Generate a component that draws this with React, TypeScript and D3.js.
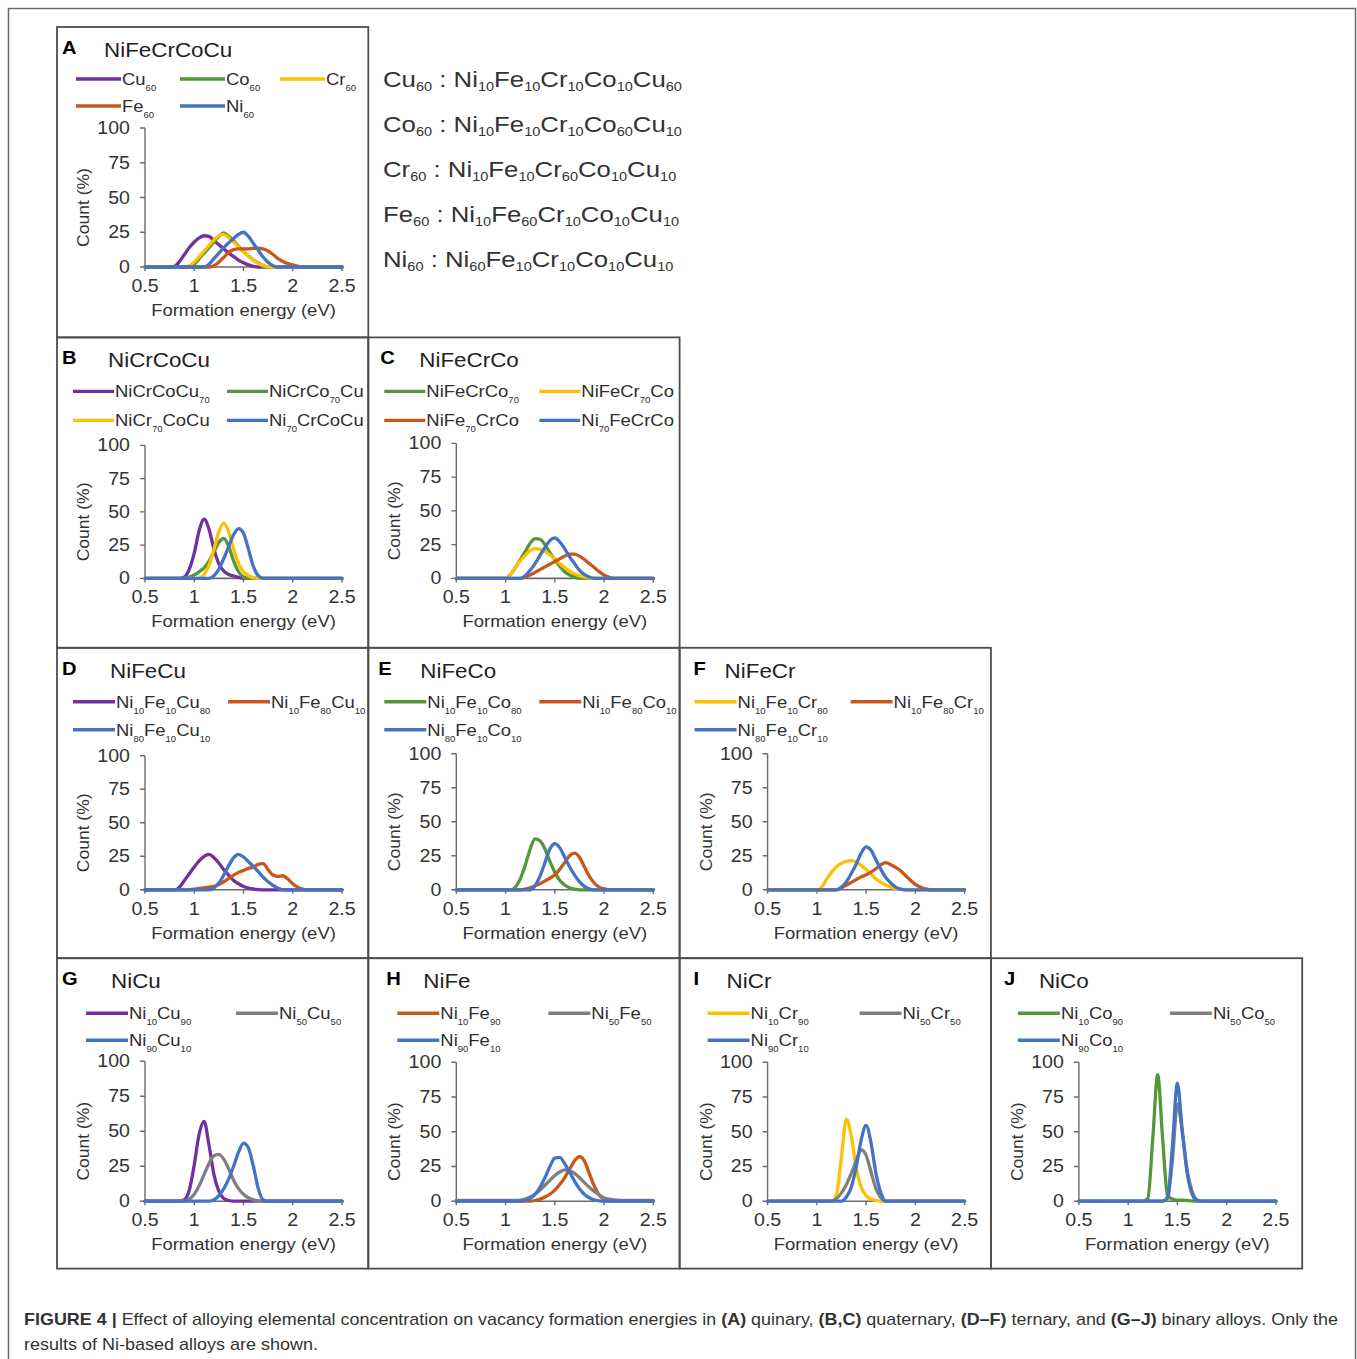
import React from "react";
import * as d3 from "d3";

// energy bins (eV) shared by every histogram curve
const energy = [
  0.5, 0.55, 0.6, 0.65, 0.7, 0.75, 0.8, 0.85, 0.9, 0.95,
  1.0, 1.05, 1.1, 1.15, 1.2, 1.25, 1.3, 1.35, 1.4, 1.45,
  1.5, 1.55, 1.6, 1.65, 1.7, 1.75, 1.8, 1.85, 1.9, 1.95,
  2.0, 2.05, 2.1, 2.15, 2.2, 2.25, 2.3, 2.35, 2.4, 2.45,
  2.5,
];
const xTicks = [0.5, 1, 1.5, 2, 2.5];
const xTickLabels = ["0.5", "1", "1.5", "2", "2.5"];
const yTicks = [0, 25, 50, 75, 100];

// (A) quinary
const A_Cu60 = [0,0,0,0,0,0,0.5,4,9,14, 18,21,22.5,22,19,16,13,10,7.5,5, 3,1.5,0.5,0,0,0,0,0,0,0, 0,0,0,0,0,0,0,0,0,0, 0];
const A_Co60 = [0,0,0,0,0,0,0,0,0,0.5, 2,6,10,14,18,22,24.5,22,19,15, 11,8,5,3,1,0,0,0,0,0, 0,0,0,0,0,0,0,0,0,0, 0];
const A_Cr60 = [0,0,0,0,0,0,0,0,0,1, 3.5,7.5,11.5,15.5,19.5,22.5,23.5,21,18,14.5, 11,8,5,2.5,1,0,0,0,0,0, 0,0,0,0,0,0,0,0,0,0, 0];
const A_Fe60 = [0,0,0,0,0,0,0,0,0,0, 0,0,0,0,1,3.5,7,10.5,12.5,13, 13,13,13.5,13.5,13,11.5,9,6,4,2.5, 1.5,0.7,0.2,0,0,0,0,0,0,0, 0];
const A_Ni60 = [0,0,0,0,0,0,0,0,0,0, 0,0,0,2,6,10,14,17.5,20.5,23.5, 25,22,17,12,7,3.5,1,0,0,0, 0,0,0,0,0,0,0,0,0,0, 0];

// (B) NiCrCoCu
const B_Cu70 = [0,0,0,0,0,0,0,0,1,7, 19,36,44.5,37,22,11,5.5,3,1.8,0.8, 0.2,0,0,0,0,0,0,0,0,0, 0,0,0,0,0,0,0,0,0,0, 0];
const B_Co70 = [0,0,0,0,0,0,0,0,0,1, 2.5,5,8,13,20,27,30,24,13,5, 1,0,0,0,0,0,0,0,0,0, 0,0,0,0,0,0,0,0,0,0, 0];
const B_Cr70 = [0,0,0,0,0,0,0,0,0,0, 0,0,3,10,22,35,41.5,35,22,11, 5,2,0.5,0,0,0,0,0,0,0, 0,0,0,0,0,0,0,0,0,0, 0];
const B_Ni70 = [0,0,0,0,0,0,0,0,0,0, 0,0,0,0,2,7,15,24,33,37.5, 34,22,9,2,0,0,0,0,0,0, 0,0,0,0,0,0,0,0,0,0, 0];

// (C) NiFeCrCo
const C_Co70 = [0,0,0,0,0,0,0,0,0,0, 0,3,8,14,20,26,29.5,29,25,19, 14,9,5,2.5,1,0,0,0,0,0, 0,0,0,0,0,0,0,0,0,0, 0];
const C_Cr70 = [0,0,0,0,0,0,0,0,0,0, 0,3,8,13,17,20.5,22,21.5,20,17.5, 14.5,11,8,5.5,3.5,2,1,0.3,0,0, 0,0,0,0,0,0,0,0,0,0, 0];
const C_Fe70 = [0,0,0,0,0,0,0,0,0,0, 0,0,0,0,1,2.5,4.5,6.5,8.5,10.5, 12.5,14.5,16.5,18,18,16.5,14,11,8,5, 2.5,1,0,0,0,0,0,0,0,0, 0];
const C_Ni70 = [0,0,0,0,0,0,0,0,0,0, 0,0,0,0,2,6,11,17,23,28, 30,27,22,16,11,6,3,1,0,0, 0,0,0,0,0,0,0,0,0,0, 0];

// (D) NiFeCu
const D_Cu80 = [0,0,0,0,0,0,0,2,7,12, 17,21.5,25,26.5,24,20,15,11,7,4.5, 2.5,1.3,0.6,0.2,0,0,0,0,0,0, 0,0,0,0,0,0,0,0,0,0, 0];
const D_Fe80 = [0,0,0,0,0,0,0,0,0,0, 0.5,1,1.5,2,2.5,4,6,8.5,11,13, 14.5,16,17,19,19.5,15,11,10,10.5,8, 4.5,2,0.5,0,0,0,0,0,0,0, 0];
const D_Ni80 = [0,0,0,0,0,0,0,0,0,0, 0,0,0,0,1.5,5,11,18,24,26.5, 24.5,21,17.5,13.5,9.5,6,3.3,1.2,0,0, 0,0,0,0,0,0,0,0,0,0, 0];

// (E) NiFeCo
const E_Co80 = [0,0,0,0,0,0,0,0,0,0, 0,0,2,8,18,30,37.5,36,30,21, 13,7,3.5,1.5,0.5,0,0,0,0,0, 0,0,0,0,0,0,0,0,0,0, 0];
const E_Fe80 = [0,0,0,0,0,0,0,0,0,0, 0,0,0,0,0.5,1.5,3,4.5,6.5,8.5, 11,15,20,25,27,24,17,10,5,2, 0.7,0,0,0,0,0,0,0,0,0, 0];
const E_Ni80 = [0,0,0,0,0,0,0,0,0,0, 0,0,0,0,0,0,3,10,20,30, 34,31,24,17,11,6,2.5,0.7,0,0, 0,0,0,0,0,0,0,0,0,0, 0];

// (F) NiFeCr
const F_Cr80 = [0,0,0,0,0,0,0,0,0,0, 0,2,8,13,17,19.5,21,21.5,20.5,18, 15,11.5,8,5.5,3.5,2,1,0.4,0,0, 0,0,0,0,0,0,0,0,0,0, 0];
const F_Fe80 = [0,0,0,0,0,0,0,0,0,0, 0,0,0,0,0,1.5,3.5,5.5,7.5,9.5, 11,13,15.5,18.5,20,18.5,16.5,14,10.5,7, 4,2,0.7,0,0,0,0,0,0,0, 0];
const F_Ni80 = [0,0,0,0,0,0,0,0,0,0, 0,0,0,0,0,2,6,12,19,27, 31.5,29,22,15,9,5,2,0.5,0,0, 0,0,0,0,0,0,0,0,0,0, 0];

// (G) NiCu
const G_Cu90 = [0,0,0,0,0,0,0,0,1,8, 26,48,57,40,19,7,2,0.5,0,0, 0,0,0,0,0,0,0,0,0,0, 0,0,0,0,0,0,0,0,0,0, 0];
const G_Cu50 = [0,0,0,0,0,0,0,0,0,1.5, 5,11,19,27,32.5,33.5,30,23,15,9, 5,2.5,1,0.3,0,0,0,0,0,0, 0,0,0,0,0,0,0,0,0,0, 0];
const G_Cu10 = [0,0,0,0,0,0,0,0,0,0, 0,0,0,0,1,4,9,16,25,35, 41.5,38,25,9,1,0,0,0,0,0, 0,0,0,0,0,0,0,0,0,0, 0];

// (H) NiFe
const H_Fe90 = [0,0,0,0,0,0,0,0,0,0, 0,0,0,0,0,0,0.5,1.5,3,5, 8,12,17,23,29,32,29,20,11,4.5, 1.5,0,0,0,0,0,0,0,0,0, 0];
const H_Fe50 = [0.5,0.5,0.5,0.5,0.5,0.5,0.5,0.5,0.5,0.5, 0.5,0.5,0.5,0.8,1.5,3,5,8,11.5,15, 18.5,21,22.5,22,20,17,13.5,10,7,4.5, 2.5,1.5,1,0.7,0.5,0.5,0.5,0.5,0.5,0.5, 0.5];
const H_Fe10 = [0,0,0,0,0,0,0,0,0,0, 0,0,0,0,0.5,2,5,10,17,25, 31,31.5,27,21,14.5,9,5,2.5,1,0.3, 0,0,0,0,0,0,0,0,0,0, 0];

// (I) NiCr
const I_Cr90 = [0,0,0,0,0,0,0,0,0,0, 0,0,0,0,5,32,59,47,24,10, 4,1.5,0.5,0,0,0,0,0,0,0, 0,0,0,0,0,0,0,0,0,0, 0];
const I_Cr50 = [0,0,0,0,0,0,0,0,0,0, 0,0,0,0,2,6,12,20,29,37, 33,21,9,2.5,0,0,0,0,0,0, 0,0,0,0,0,0,0,0,0,0, 0];
const I_Cr10 = [0,0,0,0,0,0,0,0,0,0, 0,0,0,0,0,0,3,10,25,44, 54.5,42,20,6,0,0,0,0,0,0, 0,0,0,0,0,0,0,0,0,0, 0];

// (J) NiCo
const J_Co90 = [0,0,0,0,0,0,0,0,0,0, 0,0,0,0,2,45,91,45,4,1.5, 0.8,0.8,0.5,0.2,0,0,0,0,0,0, 0,0,0,0,0,0,0,0,0,0, 0];
const J_Co50 = [0,0,0,0,0,0,0,0,0,0, 0,0,0,0,0,0,0,0,2,30, 70,50,22,7,1,0,0,0,0,0, 0,0,0,0,0,0,0,0,0,0, 0];
const J_Co10 = [0,0,0,0,0,0,0,0,0,0, 0,0,0,0,0,0,0,0,3,40, 85,50,20,5,0.5,0,0,0,0,0, 0,0,0,0,0,0,0,0,0,0, 0];

// legend labels, "_n" marks a subscript
const labelsA = ["Cu_60", "Co_60", "Cr_60", "Fe_60", "Ni_60"];
const labelsB = ["NiCrCoCu_70", "NiCrCo_70Cu", "NiCr_70CoCu", "Ni_70CrCoCu"];
const labelsC = ["NiFeCrCo_70", "NiFeCr_70Co", "NiFe_70CrCo", "Ni_70FeCrCo"];
const labelsD = ["Ni_10Fe_10Cu_80", "Ni_10Fe_80Cu_10", "Ni_80Fe_10Cu_10"];
const labelsE = ["Ni_10Fe_10Co_80", "Ni_10Fe_80Co_10", "Ni_80Fe_10Co_10"];
const labelsF = ["Ni_10Fe_10Cr_80", "Ni_10Fe_80Cr_10", "Ni_80Fe_10Cr_10"];
const labelsG = ["Ni_10Cu_90", "Ni_50Cu_50", "Ni_90Cu_10"];
const labelsH = ["Ni_10Fe_90", "Ni_50Fe_50", "Ni_90Fe_10"];
const labelsI = ["Ni_10Cr_90", "Ni_50Cr_50", "Ni_90Cr_10"];
const labelsJ = ["Ni_10Co_90", "Ni_50Co_50", "Ni_90Co_10"];

const formulas = [
  "Cu_60 : Ni_10Fe_10Cr_10Co_10Cu_60",
  "Co_60 : Ni_10Fe_10Cr_10Co_60Cu_10",
  "Cr_60 : Ni_10Fe_10Cr_60Co_10Cu_10",
  "Fe_60 : Ni_10Fe_60Cr_10Co_10Cu_10",
  "Ni_60 : Ni_60Fe_10Cr_10Co_10Cu_10",
];

const PURPLE = "#7030A0";
const GREEN = "#559638";
const YELLOW = "#FFC000";
const ORANGE = "#C8571B";
const BLUE = "#4472C4";
const GRAY = "#7F7F7F";

const FONT = "'Liberation Sans', Arial, Helvetica, sans-serif";
const SX = 1.12; // glyphs in the figure are slightly wide
const PANEL_W = 311.3;
const PANEL_H = 310.4;
const colX = [57, 57 + PANEL_W, 57 + 2 * PANEL_W, 57 + 3 * PANEL_W];
const rowY = [27, 27 + PANEL_H, 27 + 2 * PANEL_H, 27 + 3 * PANEL_H];

type Panel = {
  letter: string;
  title: string;
  col: number;
  row: number;
  letterX: number;
  titleX: number;
  labels: string[];
  colors: string[];
  values: number[][];
  legendCols: number;
  legendX: number[];
  legendY: number[];
  legendLen: number;
  plotTop: number;
  plotBottom: number;
};

const panels: Panel[] = [
  { letter: "A", title: "NiFeCrCoCu", col: 0, row: 0, letterX: 5, titleX: 47,
    labels: labelsA, colors: [PURPLE, GREEN, YELLOW, ORANGE, BLUE],
    values: [A_Cu60, A_Co60, A_Cr60, A_Fe60, A_Ni60],
    legendCols: 3, legendX: [19, 123, 223], legendY: [52, 79], legendLen: 45,
    plotTop: 101, plotBottom: 240 },
  { letter: "B", title: "NiCrCoCu", col: 0, row: 1, letterX: 5, titleX: 51,
    labels: labelsB, colors: [PURPLE, GREEN, YELLOW, BLUE],
    values: [B_Cu70, B_Co70, B_Cr70, B_Ni70],
    legendCols: 2, legendX: [16, 170], legendY: [54, 83], legendLen: 41,
    plotTop: 108, plotBottom: 241 },
  { letter: "C", title: "NiFeCrCo", col: 1, row: 1, letterX: 12, titleX: 51,
    labels: labelsC, colors: [GREEN, YELLOW, ORANGE, BLUE],
    values: [C_Co70, C_Cr70, C_Fe70, C_Ni70],
    legendCols: 2, legendX: [16, 171], legendY: [54, 83], legendLen: 41,
    plotTop: 106, plotBottom: 241 },
  { letter: "D", title: "NiFeCu", col: 0, row: 2, letterX: 5, titleX: 53,
    labels: labelsD, colors: [PURPLE, ORANGE, BLUE],
    values: [D_Cu80, D_Fe80, D_Ni80],
    legendCols: 2, legendX: [16, 171], legendY: [54, 82], legendLen: 42,
    plotTop: 108, plotBottom: 242 },
  { letter: "E", title: "NiFeCo", col: 1, row: 2, letterX: 10, titleX: 52,
    labels: labelsE, colors: [GREEN, ORANGE, BLUE],
    values: [E_Co80, E_Fe80, E_Ni80],
    legendCols: 2, legendX: [16, 171], legendY: [54, 82], legendLen: 42,
    plotTop: 106, plotBottom: 242 },
  { letter: "F", title: "NiFeCr", col: 2, row: 2, letterX: 14, titleX: 45,
    labels: labelsF, colors: [YELLOW, ORANGE, BLUE],
    values: [F_Cr80, F_Fe80, F_Ni80],
    legendCols: 2, legendX: [15, 171], legendY: [54, 82], legendLen: 42,
    plotTop: 106, plotBottom: 242 },
  { letter: "G", title: "NiCu", col: 0, row: 3, letterX: 5, titleX: 54,
    labels: labelsG, colors: [PURPLE, GRAY, BLUE],
    values: [G_Cu90, G_Cu50, G_Cu10],
    legendCols: 2, legendX: [29, 179], legendY: [55, 82], legendLen: 42,
    plotTop: 103, plotBottom: 243 },
  { letter: "H", title: "NiFe", col: 1, row: 3, letterX: 18, titleX: 55,
    labels: labelsH, colors: [ORANGE, GRAY, BLUE],
    values: [H_Fe90, H_Fe50, H_Fe10],
    legendCols: 2, legendX: [29, 180], legendY: [55, 82], legendLen: 42,
    plotTop: 104, plotBottom: 243 },
  { letter: "I", title: "NiCr", col: 2, row: 3, letterX: 14, titleX: 47,
    labels: labelsI, colors: [YELLOW, GRAY, BLUE],
    values: [I_Cr90, I_Cr50, I_Cr10],
    legendCols: 2, legendX: [28, 180], legendY: [55, 82], legendLen: 42,
    plotTop: 104, plotBottom: 243 },
  { letter: "J", title: "NiCo", col: 3, row: 3, letterX: 13, titleX: 48,
    labels: labelsJ, colors: [GREEN, GRAY, BLUE],
    values: [J_Co90, J_Co50, J_Co10],
    legendCols: 2, legendX: [27, 179], legendY: [55, 82], legendLen: 42,
    plotTop: 104, plotBottom: 243 },
];

// turn "Ni_10Fe_90" into tspans with lowered subscripts
function subText(label: string, subSize: number, dy: number) {
  const parts = label.match(/_\d+|[^_]+/g) || [];
  let lowered = false;
  return parts.map((p, i) => {
    if (p.startsWith("_")) {
      const shift = lowered ? 0 : dy;
      lowered = true;
      return (
        <tspan key={i} fontSize={subSize} dy={shift}>
          {p.slice(1)}
        </tspan>
      );
    }
    const shift = lowered ? -dy : 0;
    lowered = false;
    return (
      <tspan key={i} dy={shift}>
        {p}
      </tspan>
    );
  });
}

function Txt(props: {
  x: number;
  y: number;
  size: number;
  anchor?: string;
  weight?: string;
  fill?: string;
  rotate?: number;
  sx?: number;
  children: React.ReactNode;
}) {
  const { x, y, size, anchor = "start", weight = "normal", fill = "#333", rotate = 0, sx = SX } = props;
  return (
    <text
      transform={`translate(${x},${y}) rotate(${rotate}) scale(${sx},1)`}
      fontSize={size}
      textAnchor={anchor}
      fontWeight={weight}
      fill={fill}
    >
      {props.children}
    </text>
  );
}

function PanelView({ p }: { p: Panel }) {
  const ox = colX[p.col];
  const oy = rowY[p.row];
  const x = d3.scaleLinear().domain([0.5, 2.5]).range([88, 285]);
  const y = d3.scaleLinear().domain([0, 100]).range([p.plotBottom, p.plotTop]);
  const line = d3
    .line<number>()
    .x((_, i) => x(energy[i]))
    .y((d) => y(d))
    .curve(d3.curveMonotoneX);
  const clipId = `clip-${p.letter}`;
  const axisColor = "#6a6a6a";

  return (
    <g transform={`translate(${ox},${oy})`}>
      <defs>
        <clipPath id={clipId}>
          <rect x={0} y={0} width={PANEL_W} height={PANEL_H} />
        </clipPath>
      </defs>
      <g clipPath={`url(#${clipId})`}>
        <Txt x={p.letterX} y={27} size={18} weight="bold" fill="#000">
          {p.letter}
        </Txt>
        <Txt x={p.titleX} y={30} size={20} fill="#222">
          {p.title}
        </Txt>

        {/* legend */}
        {p.labels.map((lab, k) => {
          const c = k % p.legendCols;
          const r = Math.floor(k / p.legendCols);
          const lx = p.legendX[c];
          const ly = p.legendY[r];
          return (
            <g key={lab}>
              <line
                x1={lx}
                x2={lx + p.legendLen}
                y1={ly}
                y2={ly}
                stroke={p.colors[k]}
                strokeWidth={3.4}
              />
              <Txt x={lx + p.legendLen + 1} y={ly + 6} size={16.5} fill="#2e2e2e">
                {subText(lab, 8.5, 6)}
              </Txt>
            </g>
          );
        })}

        {/* y axis */}
        <line x1={x(0.5)} x2={x(0.5)} y1={y(0)} y2={y(100)} stroke={axisColor} strokeWidth={1.4} />
        {yTicks.map((t) => (
          <g key={t}>
            <line x1={x(0.5) - 5} x2={x(0.5)} y1={y(t)} y2={y(t)} stroke={axisColor} strokeWidth={1.4} />
            <Txt x={x(0.5) - 15} y={y(t) + 6} size={17.5} anchor="end">
              {String(t)}
            </Txt>
          </g>
        ))}

        {/* x axis */}
        <line x1={x(0.5)} x2={x(2.5)} y1={y(0)} y2={y(0)} stroke={axisColor} strokeWidth={1.6} />
        {xTicks.map((t, i) => (
          <g key={t}>
            <line x1={x(t)} x2={x(t)} y1={y(0)} y2={y(0) + 4} stroke={axisColor} strokeWidth={1.4} />
            <Txt x={x(t)} y={y(0) + 25} size={17.5} anchor="middle">
              {xTickLabels[i]}
            </Txt>
          </g>
        ))}

        <Txt x={(x(0.5) + x(2.5)) / 2} y={y(0) + 49} size={16.5} anchor="middle">
          Formation energy (eV)
        </Txt>
        <Txt x={32} y={(p.plotTop + p.plotBottom) / 2 + 10} size={17} anchor="middle" rotate={-90} sx={1.03}>
          Count (%)
        </Txt>

        {/* curves */}
        {p.values.map((vals, k) => (
          <path
            key={k}
            d={line(vals) || ""}
            fill="none"
            stroke={p.colors[k]}
            strokeWidth={3.3}
            strokeLinejoin="round"
            strokeLinecap="round"
          />
        ))}
      </g>
      <rect x={0} y={0} width={PANEL_W} height={PANEL_H} fill="none" stroke="#4d4d4d" strokeWidth={1.8} />
    </g>
  );
}

export default function App() {
  return (
    <svg
      width={1357}
      height={1359}
      style={{ position: "absolute", left: 0, top: 0, background: "#fff" }}
      fontFamily={FONT}
    >
      <rect x={0} y={0} width={1357} height={1359} fill="#fff" />
      <rect x={8.5} y={8.5} width={1347} height={1362} fill="none" stroke="#6b6b6b" strokeWidth={1.5} />

      {panels.map((p) => (
        <PanelView key={p.letter} p={p} />
      ))}

      {formulas.map((f, i) => (
        <Txt key={f} x={383} y={87 + i * 45} size={23} fill="#333">
          {subText(f, 13, 4)}
        </Txt>
      ))}

      <text
        x={24}
        y={1325}
        fontSize={17}
        fill="#333"
        textLength={1314}
        lengthAdjust="spacingAndGlyphs"
      >
        <tspan fontWeight="bold">FIGURE 4 | </tspan>
        <tspan>Effect of alloying elemental concentration on vacancy formation energies in </tspan>
        <tspan fontWeight="bold">(A)</tspan>
        <tspan> quinary, </tspan>
        <tspan fontWeight="bold">(B,C)</tspan>
        <tspan> quaternary, </tspan>
        <tspan fontWeight="bold">(D–F)</tspan>
        <tspan> ternary, and </tspan>
        <tspan fontWeight="bold">(G–J)</tspan>
        <tspan> binary alloys. Only the</tspan>
      </text>
      <text x={24} y={1350} fontSize={17} fill="#333" textLength={294} lengthAdjust="spacingAndGlyphs">
        results of Ni-based alloys are shown.
      </text>
    </svg>
  );
}
